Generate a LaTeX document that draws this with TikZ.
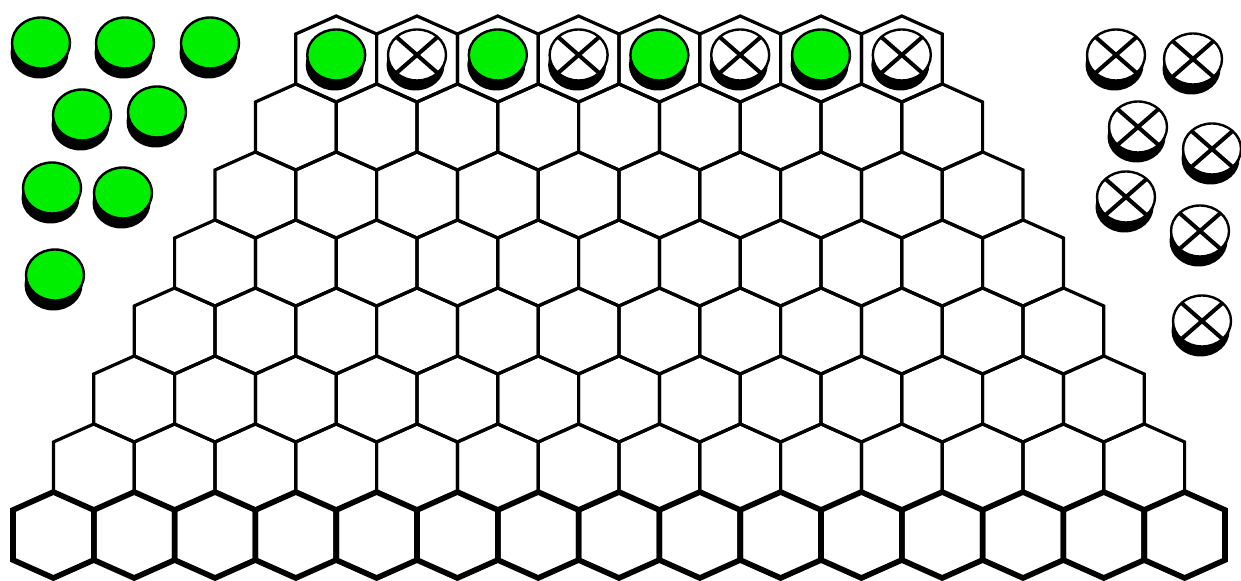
\documentclass[tikz,border=0pt]{standalone}
\usepackage{tikz}
\usetikzlibrary{positioning,calc}
\usepackage{xcolor}
\definecolor{piecegreen}{RGB}{0,238,0}

% one stone: black rim below, coloured top
\newcommand{\greenstone}[2]{%
  \fill[black] (#1-1.5,#2+10) ellipse [x radius=29, y radius=25.5];
  \draw[rim,fill=piecegreen] (#1,#2) ellipse [x radius=29, y radius=25.5];}
\newcommand{\crossstone}[2]{%
  \fill[black] (#1-1.5,#2+10) ellipse [x radius=29, y radius=25.5];
  \draw[rim,fill=white] (#1,#2) ellipse [x radius=29, y radius=25.5];
  \draw[cross] (#1-20,#2-17.5) -- (#1+20,#2+17.5);
  \draw[cross] (#1-20,#2+17.5) -- (#1+20,#2-17.5);}

\begin{document}
\begin{tikzpicture}[x=0.5pt,y=-0.5pt,
  cell/.style={draw=black,line width=1.6pt},
  basecell/.style={draw=black,line width=2.8pt},
  rim/.style={draw=black,line width=1.2pt},
  cross/.style={black,line width=2pt}]
\useasboundingbox (0,0) rectangle (1241,581);
% rows above the base
\foreach \r in {7,6,...,1}{
  \pgfmathtruncatemacro{\n}{14-\r}
  \foreach \k in {0,...,\n}{
    \pgfmathsetmacro{\cx}{53.4+40.4*\r+80.8*\k}
    \pgfmathsetmacro{\cy}{535-68*\r}
    \draw[cell] (\cx,\cy-43) -- (\cx+40.4,\cy-25) -- (\cx+40.4,\cy+25)
      -- (\cx,\cy+43) -- (\cx-40.4,\cy+25) -- (\cx-40.4,\cy-25) -- cycle;
  }
}
% base row
\foreach \k in {0,...,14}{
  \pgfmathsetmacro{\cx}{53.4+80.8*\k}
  \draw[basecell] (\cx,535-43) -- (\cx+40.4,535-25) -- (\cx+40.4,535+25)
    -- (\cx,535+43) -- (\cx-40.4,535+25) -- (\cx-40.4,535-25) -- cycle;
}
% stones on the top row
\foreach \k in {0,2,4,6}{
  \pgfmathsetmacro{\cx}{336.2+80.8*\k}
  \greenstone{\cx}{55}
}
\foreach \k in {1,3,5,7}{
  \pgfmathsetmacro{\cx}{336.2+80.8*\k}
  \crossstone{\cx}{55}
}
% stones off the board
\foreach \x/\y in {41/43,125/43,210/43,82/115,157/112,52/188,123/193,55/275}
  \greenstone{\x}{\y};
\foreach \x/\y in {1116/55,1193/59,1138/127,1212/149,1126/197,1200/231,1202/321}
  \crossstone{\x}{\y};
\end{tikzpicture}
\end{document}
